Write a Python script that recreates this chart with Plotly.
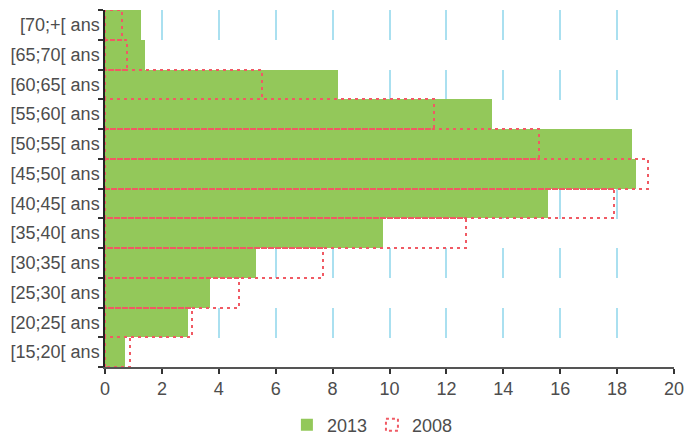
import plotly.graph_objects as go

categories = ["[15;20[ ans", "[20;25[ ans", "[25;30[ ans", "[30;35[ ans", "[35;40[ ans",
              "[40;45[ ans", "[45;50[ ans", "[50;55[ ans", "[55;60[ ans", "[60;65[ ans",
              "[65;70[ ans", "[70;+[ ans"]
values_2013 = [0.69, 2.92, 3.70, 5.32, 9.76, 15.57, 18.68, 18.53, 13.61, 8.19, 1.39, 1.27]
values_2008 = [0.89, 3.06, 4.70, 7.66, 12.69, 17.89, 19.09, 15.25, 11.57, 5.51, 0.79, 0.60]
x_ticks = [0, 2, 4, 6, 8, 10, 12, 14, 16, 18, 20]

GREEN = "#93c85a"
RED = "#f05a64"
TXT = "#4d4d4d"
FONT = "Liberation Sans, Arial, sans-serif"

fig = go.Figure()
fig.add_trace(go.Bar(
    y=categories, x=values_2013, orientation="h", name="2013",
    marker=dict(color=GREEN, line=dict(width=0)), width=1,
))
fig.add_trace(go.Bar(
    y=categories, x=values_2008, orientation="h", name="2008",
    marker=dict(color="rgba(0,0,0,0)", line=dict(color=RED, width=2)), width=1,
))

fig.update_layout(
    width=700, height=435,
    margin=dict(l=105, r=26, t=10, b=68, autoexpand=False),
    barmode="overlay", bargap=0,
    plot_bgcolor="white", paper_bgcolor="white",
    font=dict(family=FONT, size=18, color=TXT),
    showlegend=True,
    legend=dict(orientation="h", xref="container", yref="container",
                x=0.532, xanchor="center", y=0.023, yanchor="middle",
                font=dict(size=18, color=TXT), itemwidth=30),
    xaxis=dict(range=[0, 20], tickmode="array", tickvals=x_ticks, automargin=False,
               showgrid=True, gridcolor="#aae0f0", gridwidth=1.5, griddash="30px,29.5px",
               zeroline=False, showline=True, linecolor="#555555", linewidth=1.5,
               ticks="outside", ticklen=5, tickcolor="#333333", tickwidth=1.5,
               tickfont=dict(size=18, color=TXT)),
    yaxis=dict(type="category", categoryorder="array", categoryarray=categories, automargin=False,
               showgrid=False, zeroline=False, showline=True, linecolor="#222222", linewidth=1.5,
               ticks="outside", ticklen=5, tickcolor="#333333", tickwidth=1.5,
               tickson="boundaries", tickfont=dict(size=18, color=TXT)),
)

post = """
document.body.style.margin = '0';
document.body.style.padding = '0';
var gd = document.getElementById('{plot_id}');
function dashIt(){
  var tr = gd.querySelectorAll('.barlayer .trace');
  if (tr.length > 1) { tr[1].querySelectorAll('path').forEach(function(p){ p.style.strokeDasharray='3px,4px'; }); }
  var lt = gd.querySelectorAll('.legend .traces');
  if (lt.length > 1) { lt[1].querySelectorAll('path').forEach(function(p){ p.style.strokeDasharray='3px,3px'; }); }
}
dashIt();
gd.on('plotly_afterplot', dashIt);
"""
fig.write_html("out.html", post_script=post, config={"displayModeBar": False})
